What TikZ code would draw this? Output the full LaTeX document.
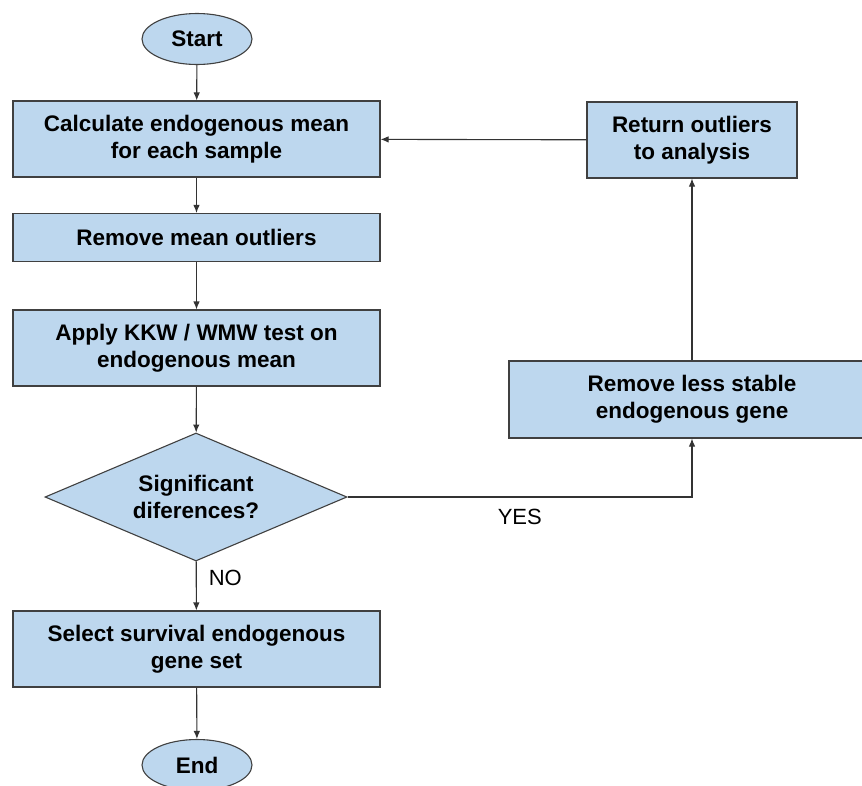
\documentclass[tikz,border=0pt]{standalone}
\usepackage{fontspec}
\setmainfont{Liberation Sans}
\usetikzlibrary{shapes.geometric, positioning, arrows.meta}
\definecolor{boxfill}{RGB}{189,215,238}
\definecolor{boxline}{RGB}{64,64,64}
\tikzset{>={Latex[length=8pt,width=6.5pt]}, x=1pt, y=-1pt,
flow/.style={->, line width=1.1pt, draw=boxline!80!black},
process/.style={rectangle, draw=boxline, line width=1.1pt, fill=boxfill, inner sep=0pt, align=center,
  minimum width=367pt, minimum height=76pt, font=\fontsize{22.5}{27}\selectfont\bfseries},
terminal/.style={ellipse, draw=boxline, line width=1.1pt, fill=boxfill, inner sep=0pt,
  minimum width=110pt, minimum height=51pt, font=\fontsize{22.5}{27}\selectfont\bfseries},
decision/.style={diamond, draw=boxline, line width=1.1pt, fill=boxfill, inner sep=0pt, align=center,
  shape aspect=2.36, minimum width=302pt, minimum height=128pt,
  font=\fontsize{22.5}{27}\selectfont\bfseries},
answer/.style={font=\fontsize{22}{24}\selectfont, inner sep=0pt},
}

\begin{document}
\begin{tikzpicture}
            \clip (0,0) rectangle (862,785);
            \fill[white] (0,0) rectangle (862,785);
            \node[terminal](start) at (197,39) {Start};
            \node[process](calc) at (196.5,139) {Calculate endogenous mean\\for each sample};
            \node[process, minimum height=48pt](remout) at (196.5,237.5) {Remove mean outliers};
            \node[process](apply) at (196.5,348) {Apply KKW / WMW test on\\endogenous mean};
            \node[decision](dec) at (196,497) {Significant\\diferences?};
            \node[process](select) at (196.5,649) {Select survival endogenous\\gene set};
            \node[terminal](end) at (197,765) {End};
            \node[process, minimum width=210pt](ret) at (692,140) {Return outliers\\to analysis};
            \node[process, minimum width=366pt, minimum height=77pt](less) at (692,399.5) {Remove less stable\\endogenous gene};

            \draw[flow] (start) -- (calc);
            \draw[flow] (calc) -- (remout);
            \draw[flow] (remout) -- (apply);
            \draw[flow] (apply) -- (dec);
            \draw[flow] (dec) -- node[answer, right, xshift=12pt, yshift=8pt]{NO} (select);
            \draw[flow] (select) -- (end);
            \draw[flow] (dec.east) -| node[answer, pos=0.25, below=12pt]{YES} (less.south);
            \draw[flow] (less) -- (ret);
            \draw[flow] (ret) -- (calc);
        \end{tikzpicture}
\end{document}
